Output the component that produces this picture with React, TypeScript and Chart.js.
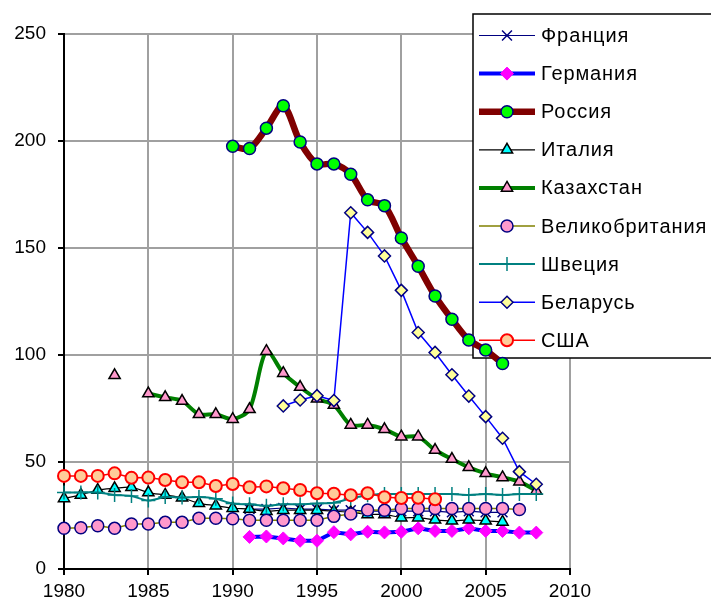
import React, { useEffect, useRef } from "react";
import { Chart, registerables } from "chart.js";

Chart.register(...registerables);

const years: number[] = [];
for (let y = 1980; y <= 2008; y++) years.push(y);

const seriesNames = ["Франция", "Германия", "Россия", "Италия", "Казахстан", "Великобритания", "Швеция", "Беларусь", "США"];

const xTicks = [1980, 1985, 1990, 1995, 2000, 2005, 2010];
const yTicks = [0, 50, 100, 150, 200, 250];

// values listed from 1980 to 2008 (null = no data)
const france = [null, null, null, null, null, null, null, null, null, null, null,
  28, 28, 28.5, 28, 28, 27.5, 27.5, 27, 27, 27, 27, 27, 26.5, 27, 26.5, 26.5, null, null];
const germany = [null, null, null, null, null, null, null, null, null, null, null,
  15, 15.2, 14.3, 13.2, 13.2, 17.2, 16.2, 17.4, 17.1, 17.4, 19, 17.8, 17.8, 19, 17.8, 17.8, 17, 17];
const russia = [null, null, null, null, null, null, null, null, null, null,
  197.5, 196.5, 206, 216.5, 199.5, 189.3, 189.3, 184.5, 172.5, 169.8, 154.7, 141.5, 127.6, 116.7, 107, 102.3, 96, null, null];
const italy = [33, 34.6, 36.9, 37.7, 38.2, 35.7, 34.6, 33.3, 30.7, 29.6,
  28.4, 28, 27, 27.5, 27.5, 27.5, 27, 26.5, 25.5, 25.5, 24, 24, 23, 22.5, 23, 22.5, 22, null, null];
const kazakhstan = [null, null, null, 90.5, null, 82, 80.2, 78.5, 72.3, 72.3,
  70, 74.6, 101.8, 91.5, 85, 79.5, 76.6, 67.3, 67.3, 65.3, 61.8, 61.8, 55.6, 51.4, 47.5, 44.7, 42.8, 40.8, 36.5];
const britain = [19, 19.3, 20.2, 19, 21, 21, 21.8, 21.8, 23.7, 23.7,
  23.5, 22.8, 22.8, 22.8, 22.8, 22.8, 24.6, 25.7, 27.6, 27.4, 28.3, 28.3, 28.3, 28.3, 28.3, 28.3, 28.3, 27.8, null];
const sweden = [35.7, 35.8, 35.7, 34.6, 34.1, 32, 33.6, 33.4, 33.6, 32.8,
  30.6, 30.2, 29.6, 30.2, 30.2, 30.6, 31, 33, 34.5, 35, 35, 35, 35, 35, 34.6, 35, 34.6, 35, 35];
const belarus = [null, null, null, null, null, null, null, null, null, null, null, null, null,
  76.2, 79, 81, 78.7, 166.5, 157.3, 146.3, 130.2, 110.5, 101.2, 90.8, 80.8, 71.2, 61.1, 45.5, 39.6];
const usa = [43.5, 43.5, 43.5, 44.7, 42.6, 42.7, 41.6, 40.5, 40.5, 38.8,
  39.7, 38.2, 38.6, 37.7, 36.9, 35.4, 35.2, 34.5, 35.4, 33.5, 33.2, 33.3, 32.6, null, null, null, null, null, null];

const seriesValues = [france, germany, russia, italy, kazakhstan, britain, sweden, belarus, usa];

type Style = {
  line: string; width: number; marker: string; fill: string; border: string; bw: number; r: number; tension: number;
};

const styles: Style[] = [
  { line: "#000080", width: 1.2, marker: "crossRot", fill: "#000080", border: "#000080", bw: 1.5, r: 7, tension: 0 },
  { line: "#0000ff", width: 4, marker: "rectRot", fill: "#ff00ff", border: "#ff00ff", bw: 1, r: 6.5, tension: 0 },
  { line: "#800000", width: 6.5, marker: "circle", fill: "#00ff00", border: "#000080", bw: 1.5, r: 6, tension: 0.3 },
  { line: "#000000", width: 1.2, marker: "triangle", fill: "#00ffff", border: "#000000", bw: 1.5, r: 6.5, tension: 0.3 },
  { line: "#008000", width: 4, marker: "triangle", fill: "#ff99cc", border: "#000000", bw: 1.5, r: 6.5, tension: 0.3 },
  { line: "#808000", width: 1.5, marker: "circle", fill: "#ff99cc", border: "#000080", bw: 1.5, r: 6, tension: 0 },
  { line: "#008080", width: 2, marker: "cross", fill: "#008080", border: "#008080", bw: 1.5, r: 7, tension: 0.3 },
  { line: "#0000ff", width: 1.5, marker: "rectRot", fill: "#ffff99", border: "#000080", bw: 1.5, r: 6, tension: 0 },
  { line: "#ff0000", width: 1.5, marker: "circle", fill: "#ffcc99", border: "#ff0000", bw: 2, r: 6, tension: 0 },
];

const FONT = "'Liberation Sans', Arial, sans-serif";

function drawMarker(ctx: CanvasRenderingContext2D, st: Style, x: number, y: number) {
  const r = st.r;
  ctx.save();
  ctx.fillStyle = st.fill;
  ctx.strokeStyle = st.border;
  ctx.lineWidth = st.bw;
  ctx.beginPath();
  if (st.marker === "circle") {
    ctx.arc(x, y, r, 0, Math.PI * 2);
    ctx.fill();
    ctx.stroke();
  } else if (st.marker === "triangle") {
    const a = (Math.PI * 2) / 3;
    ctx.moveTo(x, y - r);
    ctx.lineTo(x + Math.sin(a) * r, y - Math.cos(a) * r);
    ctx.lineTo(x - Math.sin(a) * r, y - Math.cos(a) * r);
    ctx.closePath();
    ctx.fill();
    ctx.stroke();
  } else if (st.marker === "rectRot") {
    ctx.moveTo(x, y - r);
    ctx.lineTo(x + r, y);
    ctx.lineTo(x, y + r);
    ctx.lineTo(x - r, y);
    ctx.closePath();
    ctx.fill();
    ctx.stroke();
  } else if (st.marker === "crossRot") {
    const d = r * Math.SQRT1_2;
    ctx.moveTo(x - d, y - d);
    ctx.lineTo(x + d, y + d);
    ctx.moveTo(x + d, y - d);
    ctx.lineTo(x - d, y + d);
    ctx.stroke();
  } else if (st.marker === "cross") {
    ctx.moveTo(x, y - r);
    ctx.lineTo(x, y + r);
    ctx.moveTo(x - r, y);
    ctx.lineTo(x + r, y);
    ctx.stroke();
  }
  ctx.restore();
}

const boxLegend = {
  id: "boxLegend",
  beforeDatasetsDraw(chart: any) {
    const ctx: CanvasRenderingContext2D = chart.ctx;
    const left = 473, top = 14, w = 260, h = 344;
    ctx.save();
    ctx.fillStyle = "#ffffff";
    ctx.fillRect(left, top, w, h);
    ctx.strokeStyle = "#000000";
    ctx.lineWidth = 1.5;
    ctx.strokeRect(left, top, w, h);
    ctx.font = `20px ${FONT}`;
    (ctx as any).letterSpacing = "0.9px";
    ctx.textBaseline = "middle";
    ctx.textAlign = "left";
    seriesNames.forEach((name, i) => {
      const st = styles[i];
      const y = 35.5 + i * 38.1;
      ctx.strokeStyle = st.line;
      ctx.lineWidth = st.width;
      ctx.lineCap = "butt";
      ctx.beginPath();
      ctx.moveTo(479, y);
      ctx.lineTo(535, y);
      ctx.stroke();
      drawMarker(ctx, st, 507, y);
      ctx.fillStyle = "#000000";
      ctx.fillText(name, 541, y + 1);
    });
    ctx.restore();
  },
};

export default function App() {
  const ref = useRef<HTMLCanvasElement | null>(null);

  useEffect(() => {
    if (!ref.current) return;
    const n = seriesNames.length;
    const datasets = seriesNames.map((name, i) => {
      const st = styles[i];
      return {
        label: name,
        data: seriesValues[i].map((v, k) => ({ x: years[k], y: v })),
        borderColor: st.line,
        borderWidth: st.width,
        backgroundColor: st.fill,
        pointStyle: st.marker,
        pointRadius: st.r,
        pointBackgroundColor: st.fill,
        pointBorderColor: st.border,
        pointBorderWidth: st.bw,
        tension: st.tension,
        spanGaps: false,
        fill: false,
        order: n - i,
        clip: 10,
      };
    });

    const chart = new Chart(ref.current, {
      type: "line",
      data: { datasets } as any,
      plugins: [boxLegend],
      options: {
        animation: false,
        responsive: false,
        devicePixelRatio: 1,
        layout: { padding: { top: 34, right: 141, left: 0, bottom: 0 } },
        plugins: { legend: { display: false }, tooltip: { enabled: false } },
        scales: {
          x: {
            type: "linear",
            min: 1980,
            max: 2010,
            afterBuildTicks: (scale: any) => {
              scale.ticks = xTicks.map((v) => ({ value: v }));
            },
            afterFit: (scale: any) => {
              scale.height = 37;
            },
            ticks: {
              color: "#000",
              font: { family: FONT, size: 19 },
              padding: 5,
              maxRotation: 0,
              autoSkip: false,
              callback: (v: any) => String(v),
            },
            grid: { color: "#a0a0a0", lineWidth: 2, tickColor: "#000", tickLength: 6 },
            border: { color: "#000", width: 2 },
          },
          y: {
            type: "linear",
            min: 0,
            max: 250,
            afterBuildTicks: (scale: any) => {
              scale.ticks = yTicks.map((v) => ({ value: v }));
            },
            afterFit: (scale: any) => {
              scale.width = 64;
            },
            ticks: {
              color: "#000",
              font: { family: FONT, size: 19 },
              padding: 12,
              callback: (v: any) => String(v),
            },
            grid: { color: "#a0a0a0", lineWidth: 2, tickColor: "#000", tickLength: 6 },
            border: { color: "#000", width: 2 },
          },
        },
      } as any,
    });
    return () => chart.destroy();
  }, []);

  return (
    <div style={{ position: "absolute", left: 0, top: 0, width: 711, height: 606, background: "#fff" }}>
      <canvas ref={ref} width={711} height={606} style={{ display: "block" }} />
    </div>
  );
}
